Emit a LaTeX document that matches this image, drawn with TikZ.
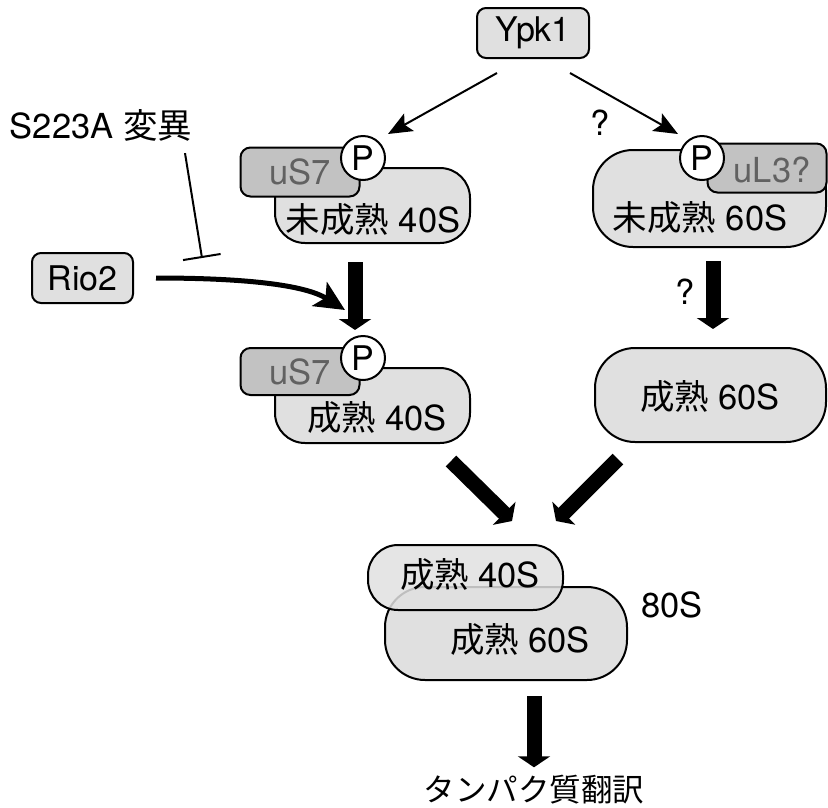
\documentclass[tikz,border=0pt]{standalone}
\usepackage{fontspec}
\setmainfont{TeX Gyre Heros}
\newfontfamily\jp{Noto Sans CJK JP}
\usepackage{tikz}
\usetikzlibrary{arrows.meta}
\definecolor{subfill}{gray}{0.88}
\definecolor{protfill}{gray}{0.76}
\definecolor{prottext}{gray}{0.38}

\begin{document}
\begin{tikzpicture}[x=1pt, y=-1pt,
box/.style={draw, line width=2pt, fill=subfill, rounded corners=9pt, inner sep=0pt, minimum height=50pt, font=\fontsize{34}{39}\selectfont},
sub/.style={draw, line width=2pt, fill=subfill, inner sep=0pt},
prot/.style={draw, line width=2pt, fill=protfill, rounded corners=10pt, inner sep=0pt, minimum width=119pt, minimum height=49pt},
phos/.style={circle, draw, line width=2pt, fill=white, minimum size=44pt, inner sep=0pt, font=\fontsize{34}{39}\selectfont},
lbl/.style={inner sep=0pt, font=\fontsize{34.5}{40}\selectfont},
plbl/.style={lbl, text=prottext},
thinarr/.style={line width=2pt, -{Stealth[length=24pt,width=20pt,inset=5pt]}},
fatarr/.style={line width=15pt, -{Triangle[length=11pt,width=32pt]}},
curvearr/.style={line width=5pt, -{Stealth[length=30pt,width=28pt,inset=7pt]}},
blockarr/.style={line width=2pt, -{Bar[width=38pt,line width=2pt]}}]
\useasboundingbox (0,0) rectangle (828,807);

\node[box, minimum width=112pt] (ypk) at (533,33) {Ypk1};
\node[box, minimum width=101pt] (rio) at (82.5,278) {Rio2};
\node[lbl] (mut) at (101,125) {S223A {\jp 変異}};

\node[sub, rounded corners=30pt, minimum width=195pt, minimum height=75pt] (im40) at (372.5,205.5) {};
\node[prot] (us7a) at (300,172) {};
\node[plbl] at (us7a) {uS7};
\node[phos] (p1) at (363,158) {P};
\node[lbl] (t40a) at (373,220) {{\jp 未成熟} 40S};

\node[sub, rounded corners=40pt, minimum width=233pt, minimum height=97pt] (im60) at (709.5,198.5) {};
\node[prot] (ul3) at (767,168) {};
\node[plbl] at (772,170) {uL3?};
\node[phos] (p3) at (702,158) {P};
\node[lbl] (t60a) at (700,218) {{\jp 未成熟} 60S};

\node[sub, rounded corners=30pt, minimum width=195pt, minimum height=75pt] (m40) at (372.5,405.5) {};
\node[prot, minimum height=47pt] (us7b) at (300,371.5) {};
\node[plbl] at (us7b) {uS7};
\node[phos] (p2) at (363,358) {P};
\node[lbl] (t40b) at (377,418) {{\jp 成熟} 40S};

\node[sub, rounded corners=40pt, minimum width=231pt, minimum height=94pt] (m60) at (710.5,395) {};
\node[lbl] (t60b) at (710,397) {{\jp 成熟} 60S};

\node[sub, rounded corners=40pt, minimum width=242pt, minimum height=93pt] (c60) at (506,633.5) {};
\node[sub, rounded corners=30pt, minimum width=195pt, minimum height=65pt, fill opacity=0.85] (c40) at (465.5,577.5) {};
\node[lbl] (t40c) at (470,575) {{\jp 成熟} 40S};
\node[lbl] (t60c) at (520,640) {{\jp 成熟} 60S};
\node[lbl] (r80) at (672,605) {80S};

\node[inner sep=0pt, font=\fontsize{31.5}{36}\selectfont\jp] (trans) at (534,790) {タンパク質翻訳};

\node[lbl] (q1) at (600,123) {?};
\node[lbl] (q2) at (685,292) {?};

\coordinate (rioend) at (345,310);
\coordinate (blockend) at (202,258);

\draw[thinarr] ([xshift=-36pt,yshift=-14pt]ypk.south) -- ([xshift=25pt,yshift=24pt]p1.center);
\draw[thinarr] ([xshift=37pt,yshift=-14pt]ypk.south) -- ([xshift=-24pt,yshift=24pt]p3.center);
\draw[blockarr] ([xshift=84pt,yshift=-12pt]mut.south) -- (blockend);
\draw[fatarr] ([xshift=-17.5pt,yshift=-18pt]im40.south) -- ([xshift=-8pt,yshift=5pt]p2.north);
\draw[fatarr] ([xshift=3.5pt,yshift=-13pt]im60.south) -- ([xshift=2.5pt,yshift=18pt]m60.north);
\draw[curvearr] ([xshift=22pt]rio.east) .. controls +(90,0) and +(-40,-25) .. (rioend);
\draw[fatarr] ([xshift=-20pt,yshift=-17pt]m40.south east) -- ([xshift=46.5pt,yshift=23pt]c40.north);
\draw[fatarr] ([xshift=-92.5pt,yshift=-16pt]m60.south) -- ([xshift=90.5pt,yshift=23pt]c40.north);
\draw[fatarr] ([xshift=28pt,yshift=-15pt]c60.south) -- ([yshift=8pt]trans.north);
\end{tikzpicture}
\end{document}
